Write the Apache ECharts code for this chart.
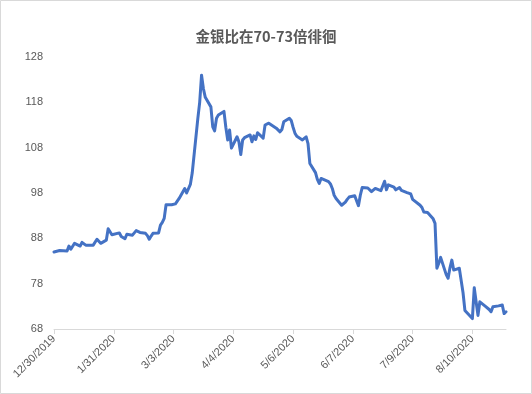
<!DOCTYPE html>
<html>
<head>
<meta charset="utf-8">
<script src="https://cdn.jsdelivr.net/npm/echarts@6/dist/echarts.min.js"></script>
<style>
html,body{margin:0;padding:0;background:#fff;}
#c{width:532px;height:394px;}
</style>
</head>
<body>
<div id="c"></div>
<script>
const title = "金银比在70-73倍徘徊";
const startDate = "2019-12-30";
const endDate = "2020-08-28";
const tickStepDays = 32;
const yTicks = [68, 78, 88, 98, 108, 118, 128];

const dates = [
"2019-12-30","2019-12-31","2020-01-02","2020-01-03","2020-01-06","2020-01-07","2020-01-08","2020-01-09","2020-01-10",
"2020-01-13","2020-01-14","2020-01-15","2020-01-16","2020-01-17","2020-01-20","2020-01-21","2020-01-22","2020-01-23","2020-01-24",
"2020-01-27","2020-01-28","2020-01-29","2020-01-30","2020-01-31","2020-02-03","2020-02-04","2020-02-05","2020-02-06","2020-02-07",
"2020-02-10","2020-02-11","2020-02-12","2020-02-13","2020-02-14","2020-02-17","2020-02-18","2020-02-19","2020-02-20","2020-02-21",
"2020-02-24","2020-02-25","2020-02-26","2020-02-27","2020-02-28","2020-03-02","2020-03-03","2020-03-04","2020-03-05","2020-03-06",
"2020-03-09","2020-03-10","2020-03-11","2020-03-12","2020-03-13","2020-03-16","2020-03-17","2020-03-18","2020-03-19","2020-03-20",
"2020-03-23","2020-03-24","2020-03-25","2020-03-26","2020-03-27","2020-03-30","2020-03-31","2020-04-01","2020-04-02","2020-04-03",
"2020-04-06","2020-04-07","2020-04-08","2020-04-09","2020-04-10","2020-04-13","2020-04-14","2020-04-15","2020-04-16","2020-04-17",
"2020-04-20","2020-04-21","2020-04-22","2020-04-23","2020-04-24","2020-04-27","2020-04-28","2020-04-29","2020-04-30","2020-05-01",
"2020-05-04","2020-05-05","2020-05-06","2020-05-07","2020-05-08","2020-05-11","2020-05-12","2020-05-13","2020-05-14","2020-05-15",
"2020-05-18","2020-05-19","2020-05-20","2020-05-21","2020-05-22","2020-05-25","2020-05-26","2020-05-27","2020-05-28","2020-05-29",
"2020-06-01","2020-06-02","2020-06-03","2020-06-04","2020-06-05","2020-06-08","2020-06-09","2020-06-10","2020-06-11","2020-06-12",
"2020-06-15","2020-06-16","2020-06-17","2020-06-18","2020-06-19","2020-06-22","2020-06-23","2020-06-24","2020-06-25","2020-06-26",
"2020-06-29","2020-06-30","2020-07-01","2020-07-02","2020-07-03","2020-07-06","2020-07-07","2020-07-08","2020-07-09","2020-07-10",
"2020-07-13","2020-07-14","2020-07-15","2020-07-16","2020-07-17","2020-07-20","2020-07-21","2020-07-22","2020-07-23","2020-07-24",
"2020-07-27","2020-07-28","2020-07-29","2020-07-30","2020-07-31","2020-08-03","2020-08-04","2020-08-05","2020-08-06","2020-08-07",
"2020-08-10","2020-08-11","2020-08-12","2020-08-13","2020-08-14","2020-08-17","2020-08-18","2020-08-19","2020-08-20","2020-08-21",
"2020-08-24","2020-08-25","2020-08-26","2020-08-27","2020-08-28"
];

const ratio = [
85.0,85.2,85.3,85.1,85.2,86.3,85.6,86.0,86.9,
86.3,87.1,86.8,86.5,86.5,86.5,86.6,87.8,87.9,86.9,
87.6,90.1,89.8,88.8,88.4,89.2,88.4,88.6,87.9,88.9,
88.7,89.0,89.7,89.5,89.3,89.1,88.6,87.8,88.5,89.1,
89.2,90.9,91.5,92.4,95.4,95.4,95.4,95.6,96.2,96.8,
99.0,98.0,97.8,99.9,102.4,114.4,118.0,124.0,121.0,119.1,
117.0,112.6,111.7,114.5,115.2,116.0,112.5,109.7,111.9,107.9,
110.4,109.3,106.5,109.7,110.2,110.8,109.3,110.6,109.8,111.3,
110.1,113.0,113.3,113.4,113.4,112.3,112.0,111.5,112.0,113.7,
114.5,114.0,112.5,111.2,110.5,109.7,109.3,110.4,108.9,104.5,
102.5,101.0,100.1,101.2,101.0,100.5,100.0,99.0,97.5,96.8,
95.3,95.5,96.0,96.6,97.1,97.4,97.6,95.2,97.5,99.2,
99.1,99.0,98.3,98.7,99.0,98.5,98.6,100.6,98.7,99.8,
99.3,98.7,98.9,99.2,98.6,98.1,98.0,97.8,96.6,96.5,
95.3,94.8,93.8,93.5,93.7,92.3,91.3,81.4,82.5,83.8,
80.0,79.2,81.5,83.2,81.0,81.4,81.6,76.0,72.1,72.3,
70.3,77.1,74.0,71.0,74.0,73.0,72.6,72.3,71.8,72.9,
73.1,73.3,73.3,71.4,71.8
];

const DAY = 86400000;
function toDay(s){ return Math.round((Date.parse(s + "T00:00:00Z") - Date.parse(startDate + "T00:00:00Z")) / DAY); }
function fmt(d){
  const t = new Date(Date.parse(startDate + "T00:00:00Z") + d * DAY);
  return (t.getUTCMonth() + 1) + "/" + t.getUTCDate() + "/" + t.getUTCFullYear();
}
const seriesData = dates.map((d, i) => [toDay(d), ratio[i]]);

const chart = echarts.init(document.getElementById('c'), null, {renderer: 'canvas'});
chart.setOption({
  animation: false,
  backgroundColor: '#ffffff',
  graphic: [{
    type: 'rect', left: 0, top: 0, z: -1,
    shape: {x: 0.5, y: 0.5, width: 531, height: 393},
    style: {fill: '#ffffff', stroke: '#d9d9d9', lineWidth: 1}
  }],
  title: {
    text: title, left: 'center', top: 24,
    textStyle: {fontFamily: '"Noto Sans CJK SC", sans-serif', fontSize: 14.5, fontWeight: 'bold', color: '#595959'}
  },
  grid: {left: 54, right: 26, top: 57, bottom: 65, containLabel: false},
  xAxis: {
    type: 'value', min: 0, max: toDay(endDate), interval: tickStepDays,
    axisLine: {show: true, lineStyle: {color: '#d9d9d9', width: 1}},
    axisTick: {show: true, length: 5, lineStyle: {color: '#d9d9d9'}},
    splitLine: {show: false},
    axisLabel: {
      rotate: 45, margin: 8, color: '#595959', fontSize: 11,
      fontFamily: 'Liberation Sans, Arial, sans-serif',
      showMaxLabel: false,
      formatter: v => fmt(v)
    }
  },
  yAxis: {
    type: 'value', min: yTicks[0], max: yTicks[yTicks.length - 1], interval: 10,
    axisLine: {show: false}, axisTick: {show: false}, splitLine: {show: false},
    axisLabel: {color: '#595959', fontSize: 11, margin: 11, fontFamily: 'Liberation Sans, Arial, sans-serif'}
  },
  series: [{
    type: 'line', data: seriesData, showSymbol: false, symbol: 'none',
    lineStyle: {color: '#4472C4', width: 3, join: 'round', cap: 'round'},
    itemStyle: {color: '#4472C4'}
  }]
});
</script>
</body>
</html>
